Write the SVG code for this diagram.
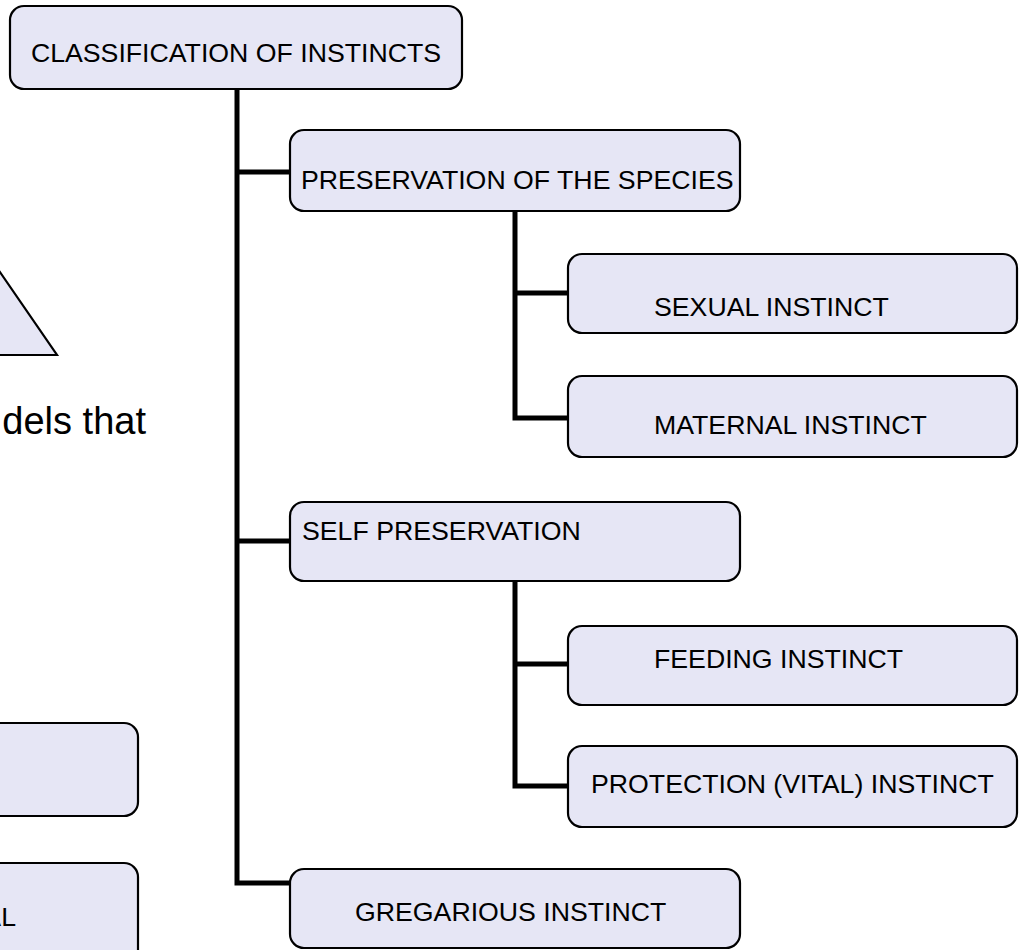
<svg xmlns="http://www.w3.org/2000/svg" width="1021" height="950" viewBox="0 0 1021 950">
  <style>
    .box { fill: #e6e6f5; stroke: #000; stroke-width: 2.2; }
    .lbl { font-family: "Liberation Sans", Arial, sans-serif; font-size: 26.7px; fill: #000; }
    .big { font-family: "Liberation Sans", Arial, sans-serif; font-size: 38px; fill: #000; }
    .wire { fill: none; stroke: #000; stroke-width: 5; stroke-linejoin: miter; }
  </style>
  <rect width="1021" height="950" fill="#fff"/>

  <!-- partial shapes at the left edge -->
  <g id="left-triangle">
    <polygon class="box" points="-60,185 57,355 -120,355"/>
  </g>
  <g id="left-caption">
    <text class="big" x="146" y="434" text-anchor="end">dels that</text>
  </g>
  <g id="left-box-1">
    <rect class="box" x="-300" y="723" width="438" height="93" rx="14"/>
  </g>
  <g id="left-box-2">
    <rect class="box" x="-300" y="863" width="438" height="110" rx="14"/>
    <text class="lbl" x="16" y="926" text-anchor="end">AL</text>
  </g>

  <!-- connectors -->
  <g id="connectors">
    <path class="wire" d="M237,89 V883 H290"/>
    <path class="wire" d="M237,172 H290"/>
    <path class="wire" d="M237,541 H290"/>
    <path class="wire" d="M515,211 V418 H568"/>
    <path class="wire" d="M515,293 H568"/>
    <path class="wire" d="M515,581 V786 H568"/>
    <path class="wire" d="M515,664 H568"/>
  </g>

  <!-- nodes -->
  <g id="root">
    <rect class="box" x="10" y="6" width="452" height="83" rx="14"/>
    <text class="lbl" x="236" y="62" text-anchor="middle">CLASSIFICATION OF INSTINCTS</text>
  </g>
  <g id="species">
    <rect class="box" x="290" y="130" width="450" height="81" rx="14"/>
    <text class="lbl" x="301" y="189">PRESERVATION OF THE SPECIES</text>
  </g>
  <g id="sexual">
    <rect class="box" x="568" y="254" width="449" height="79" rx="14"/>
    <text class="lbl" x="654" y="316">SEXUAL INSTINCT</text>
  </g>
  <g id="maternal">
    <rect class="box" x="568" y="376" width="449" height="81" rx="14"/>
    <text class="lbl" x="654" y="434">MATERNAL INSTINCT</text>
  </g>
  <g id="self">
    <rect class="box" x="290" y="502" width="450" height="79" rx="14"/>
    <text class="lbl" x="302" y="540">SELF PRESERVATION</text>
  </g>
  <g id="feeding">
    <rect class="box" x="568" y="626" width="449" height="79" rx="14"/>
    <text class="lbl" x="654" y="668">FEEDING INSTINCT</text>
  </g>
  <g id="protection">
    <rect class="box" x="568" y="746" width="449" height="81" rx="14"/>
    <text class="lbl" x="591" y="793">PROTECTION (VITAL) INSTINCT</text>
  </g>
  <g id="gregarious">
    <rect class="box" x="290" y="869" width="450" height="79" rx="14"/>
    <text class="lbl" x="355" y="921">GREGARIOUS INSTINCT</text>
  </g>
</svg>
